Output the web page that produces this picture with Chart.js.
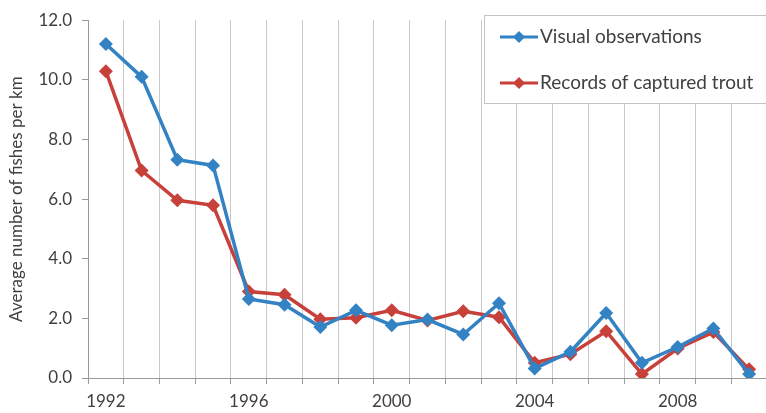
<!DOCTYPE html>
<html lang="en">
<head>
    <meta charset="UTF-8">
    <title>Fish counts</title>
    <script src="https://cdn.jsdelivr.net/npm/chart.js"></script>
    <style>
        html, body {
            margin: 0;
            padding: 0;
            background: #ffffff;
            overflow: hidden;
        }
        .wrap {
            width: 774px; /* plot runs a little past the window on the right, like the source */
            height: 413px;
            position: relative;
        }
    </style>
</head>
<body>
    <div class="wrap">
        <canvas id="myChart"></canvas>
    </div>

    <script>
        // data
        const years = ['1992', '1993', '1994', '1995', '1996', '1997', '1998', '1999', '2000', '2001',
                       '2002', '2003', '2004', '2005', '2006', '2007', '2008', '2009', '2010'];
        const visualObs = [11.2, 10.1, 7.32, 7.13, 2.65, 2.46, 1.71, 2.27, 1.77, 1.96,
                           1.46, 2.51, 0.32, 0.88, 2.18, 0.51, 1.04, 1.66, 0.13];
        const capturedTrout = [10.29, 6.96, 5.96, 5.79, 2.9, 2.79, 1.97, 2.02, 2.27, 1.93,
                               2.24, 2.04, 0.51, 0.8, 1.57, 0.13, 0.99, 1.54, 0.29];
        const seriesNames = ['Visual observations', 'Records of captured trout'];
        const yTicks = [0, 2, 4, 6, 8, 10, 12];

        const blue = '#3382c4';
        const red = '#c8403a';
        const textColor = '#404040';
        const fontFamily = 'Lato, "Open Sans", sans-serif';

        // legend box in the top right, drawn over the grid lines
        const legendBox = {
            id: 'legendBox',
            beforeDatasetsDraw(chart) {
                const ctx = chart.ctx;
                const x = 484, y = 15, w = 400, h = 88;
                ctx.save();
                ctx.fillStyle = '#ffffff';
                ctx.fillRect(x, y, w, h);
                ctx.strokeStyle = '#c4c4c4';
                ctx.lineWidth = 1;
                ctx.strokeRect(x + 0.5, y + 0.5, w, h);

                const rows = [37, 83];
                chart.data.datasets.forEach(function (ds, i) {
                    const cy = rows[i];
                    ctx.strokeStyle = ds.borderColor;
                    ctx.lineWidth = 3;
                    ctx.beginPath();
                    ctx.moveTo(500, cy);
                    ctx.lineTo(538, cy);
                    ctx.stroke();
                    // small diamond
                    ctx.fillStyle = ds.borderColor;
                    ctx.beginPath();
                    ctx.moveTo(519, cy - 6);
                    ctx.lineTo(525, cy);
                    ctx.lineTo(519, cy + 6);
                    ctx.lineTo(513, cy);
                    ctx.closePath();
                    ctx.fill();

                    ctx.fillStyle = textColor;
                    ctx.font = '19px ' + fontFamily;
                    ctx.textBaseline = 'middle';
                    ctx.textAlign = 'left';
                    ctx.fillText(ds.label, 540, cy);
                });
                ctx.restore();
            }
        };

        const config = {
            type: 'line',
            data: {
                labels: years,
                datasets: [{
                    label: seriesNames[0],
                    data: visualObs,
                    borderColor: blue,
                    backgroundColor: blue,
                    borderWidth: 3.5,
                    pointStyle: 'rectRot',
                    pointRadius: 7,
                    pointBorderWidth: 0,
                    tension: 0
                }, {
                    label: seriesNames[1],
                    data: capturedTrout,
                    borderColor: red,
                    backgroundColor: red,
                    borderWidth: 3.5,
                    pointStyle: 'rectRot',
                    pointRadius: 7,
                    pointBorderWidth: 0,
                    tension: 0
                }]
            },
            options: {
                responsive: true,
                maintainAspectRatio: false,
                animation: false,
                events: [],
                layout: {
                    padding: { top: 18, right: 0, left: 0, bottom: 0 }
                },
                plugins: {
                    legend: { display: false },
                    tooltip: { enabled: false }
                },
                scales: {
                    x: {
                        offset: true,
                        grid: {
                            offset: true,
                            color: '#c9c9c9',
                            tickColor: '#9a9a9a',
                            tickLength: 6,
                            lineWidth: 1
                        },
                        border: { color: '#9a9a9a', width: 1 },
                        ticks: {
                            autoSkip: false,
                            maxRotation: 0,
                            padding: 7,
                            color: textColor,
                            font: { family: fontFamily, size: 17 },
                            callback: function (value, index) {
                                return index % 4 === 0 ? years[index] : '';
                            }
                        },
                        afterFit: function (scale) { scale.height = 35; }
                    },
                    y: {
                        min: 0,
                        max: 12,
                        afterBuildTicks: function (scale) {
                            scale.ticks = yTicks.map(function (v) { return { value: v }; });
                        },
                        grid: {
                            drawOnChartArea: false,
                            tickColor: '#9a9a9a',
                            tickLength: 6
                        },
                        border: { color: '#9a9a9a', width: 1 },
                        ticks: {
                            padding: 10,
                            color: textColor,
                            font: { family: fontFamily, size: 17 },
                            callback: function (value) { return value.toFixed(1); }
                        },
                        title: {
                            display: true,
                            text: 'Average number of fishes per km',
                            color: textColor,
                            font: { family: fontFamily, size: 17 },
                            padding: { top: 6, bottom: 0 }
                        },
                        afterFit: function (scale) { scale.width = 88; }
                    }
                }
            },
            plugins: [legendBox]
        };

        var myChart = new Chart(document.getElementById('myChart'), config);
    </script>
</body>
</html>
